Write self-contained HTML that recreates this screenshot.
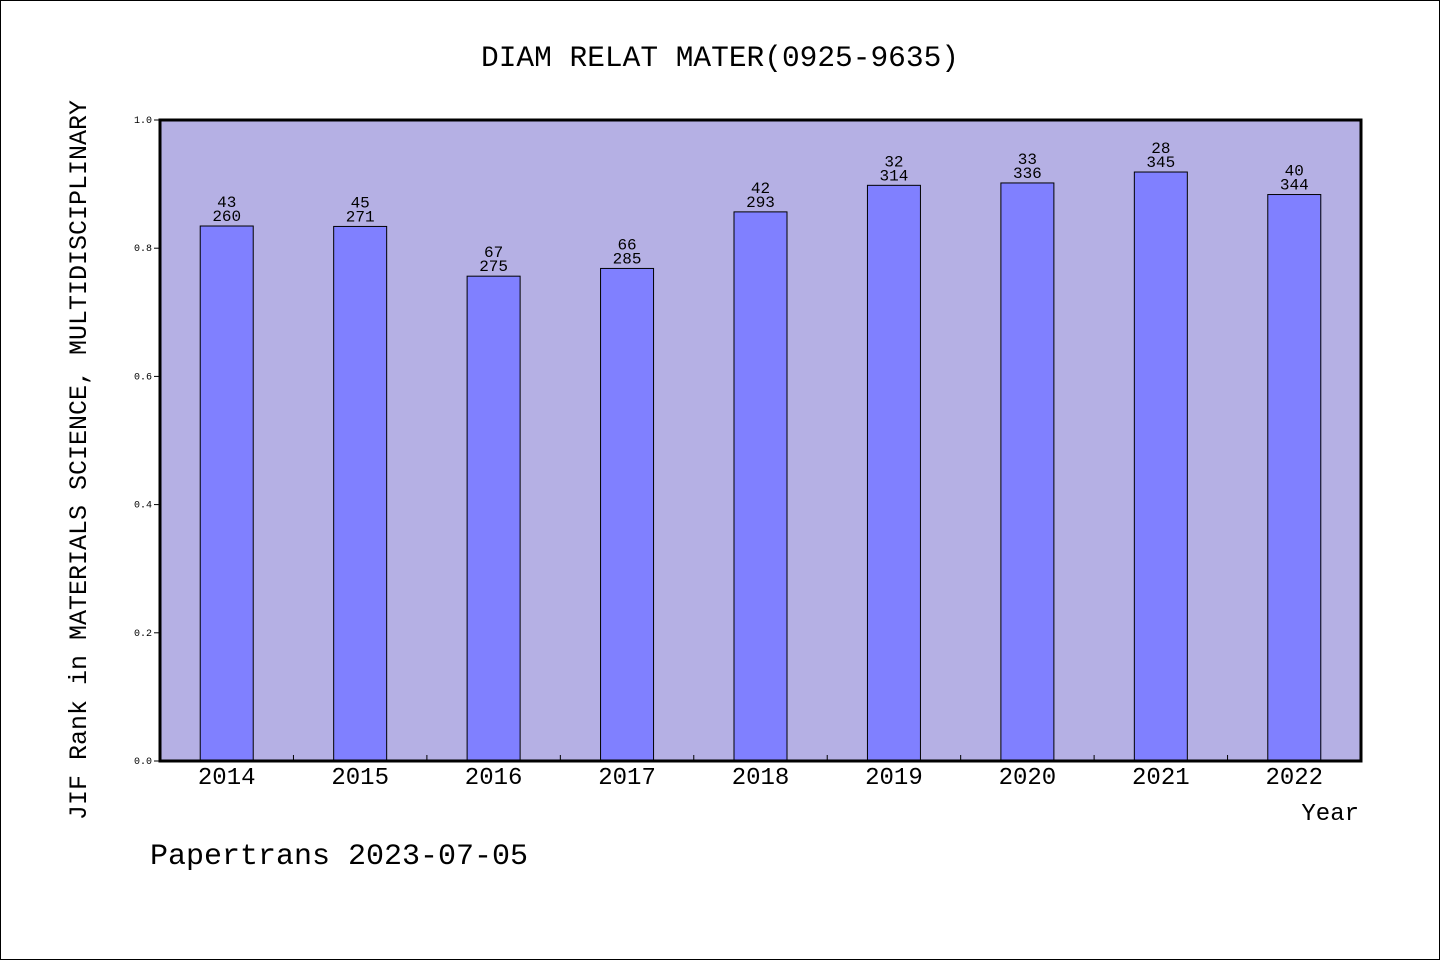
<!DOCTYPE html>
<html><head><meta charset="utf-8"><style>
html,body{margin:0;padding:0;background:#fff}
svg{display:block}
text{font-family:"Liberation Mono","DejaVu Sans Mono",monospace;fill:#000}
</style></head><body>
<svg id="chart" width="1440" height="960">
<rect x="0.5" y="0.5" width="1439" height="959" fill="#fff" stroke="#000"/>
<text x="720" y="66" text-anchor="middle" font-size="29.5">DIAM RELAT MATER(0925-9635)</text>
<rect x="160" y="120" width="1201" height="641" fill="#b5b0e4"/>
<g id="bars"></g>
<rect x="160" y="120" width="1201" height="641" fill="none" stroke="#000" stroke-width="3"/>
<g id="axes"></g>
<text transform="translate(86,460) rotate(-90)" text-anchor="middle" font-size="25">JIF Rank in MATERIALS SCIENCE, MULTIDISCIPLINARY</text>
<text x="1359" y="820" text-anchor="end" font-size="24">Year</text>
<text x="150" y="864" font-size="30">Papertrans 2023-07-05</text>
</svg>
<script>
const years=["2014","2015","2016","2017","2018","2019","2020","2021","2022"];
const ranks=[43,45,67,66,42,32,33,28,40];
const totals=[260,271,275,285,293,314,336,345,344];
const yTicks=[0,0.2,0.4,0.6,0.8,1.0];
const tickLabels=["0.0","0.2","0.4","0.6","0.8","1.0"];
const NS="http://www.w3.org/2000/svg";
const X0=160,X1=1361,Y0=761,Y1=120;
const band=(X1-X0)/years.length;
const xc=i=>X0+band*(i+0.5);
const yv=v=>Y0-v*(Y0-Y1);
function mk(tag,attrs,parent,txt){const e=document.createElementNS(NS,tag);for(const k in attrs)e.setAttribute(k,attrs[k]);if(txt!==undefined)e.textContent=txt;parent.appendChild(e);return e;}
const bars=document.getElementById('bars'),axes=document.getElementById('axes');
years.forEach((y,i)=>{
 const v=1-ranks[i]/totals[i];
 const r=mk('rect',{x:xc(i)-26.5,y:yv(v),width:53,height:Y0-yv(v),fill:'#8080ff',stroke:'#000','stroke-width':1},bars);
 
 
 const t1=mk('text',{x:xc(i),y:yv(v)-19,'text-anchor':'middle','font-size':16},bars,String(ranks[i]));
 
 
 const t2=mk('text',{x:xc(i),y:yv(v)-5,'text-anchor':'middle','font-size':16},bars,String(totals[i]));
 
 
 const xl=mk('text',{x:xc(i),y:784,'text-anchor':'middle','font-size':24},axes,y);
 
 
 if(i>0){const tk=mk('line',{x1:X0+band*i,x2:X0+band*i,y1:Y0,y2:Y0-6,stroke:'#000'},axes);
 
 }
});
yTicks.forEach((v,i)=>{
 const tk=mk('line',{x1:X0-6,x2:X0,y1:yv(v),y2:yv(v),stroke:'#000'},axes);
 
 
 const tl=mk('text',{x:152,y:yv(v)+3,'text-anchor':'end','font-size':10},axes,tickLabels[i]);
 
 
});
</script>
</body></html>
